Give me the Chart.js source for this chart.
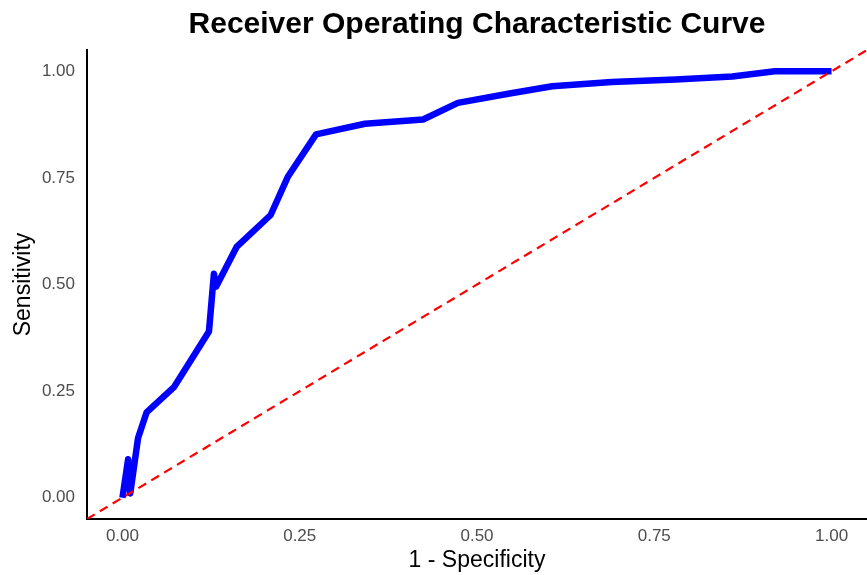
<!DOCTYPE html>
<html lang="en">
<head>
    <meta charset="UTF-8">
    <title>ROC Curve</title>
    <script src="https://cdn.jsdelivr.net/npm/chart.js"></script>
    <style>
        html, body { margin: 0; padding: 0; background: #fff; }
        #wrap { width: 867px; height: 575px; }
    </style>
</head>
<body>
    <div id="wrap"><canvas id="rocChart" width="867" height="575"></canvas></div>
    <script>
        // ROC points
        const fpr = [0, 0.008, 0.011, 0.022, 0.034, 0.073, 0.122, 0.129, 0.132, 0.161, 0.209, 0.233, 0.273, 0.342, 0.424, 0.473, 0.546, 0.606, 0.690, 0.78, 0.86, 0.92, 1.0];
        const tpr = [0, 0.09, 0.01, 0.14, 0.20, 0.26, 0.39, 0.525, 0.495, 0.588, 0.663, 0.752, 0.852, 0.877, 0.887, 0.926, 0.948, 0.965, 0.975, 0.981, 0.988, 1.0, 1.0];
        const diagX = [-0.05, 1.05];
        const diagY = [-0.05, 1.05];
        const tickValues = [0, 0.25, 0.5, 0.75, 1];

        const titleText = 'Receiver Operating Characteristic Curve';
        const fontFamily = '"Liberation Sans", Arial, sans-serif';

        // title centred over the plot panel, like ggplot does it
        const titlePlugin = {
            id: 'plotTitle',
            afterDraw(chart) {
                const ctx = chart.ctx;
                const area = chart.chartArea;
                ctx.save();
                ctx.font = 'bold 30px ' + fontFamily;
                ctx.fillStyle = '#000';
                ctx.textAlign = 'center';
                ctx.textBaseline = 'alphabetic';
                ctx.fillText(titleText, (area.left + area.right) / 2, 33);
                ctx.restore();
            }
        };

        const fixedTicks = scale => {
            scale.ticks = tickValues.map(v => ({ value: v }));
        };

        new Chart(document.getElementById('rocChart'), {
            type: 'line',
            data: {
                datasets: [
                    {
                        data: diagX.map((x, i) => ({ x: x, y: diagY[i] })),
                        borderColor: '#ff0000',
                        borderWidth: 2.2,
                        borderDash: [9, 6],
                        pointRadius: 0,
                        tension: 0
                    },
                    {
                        data: fpr.map((x, i) => ({ x: x, y: tpr[i] })),
                        borderColor: '#0000ff',
                        borderWidth: 6.5,
                        borderJoinStyle: 'round',
                        pointRadius: 0,
                        tension: 0
                    }
                ]
            },
            plugins: [titlePlugin],
            options: {
                responsive: false,
                animation: false,
                layout: { padding: { top: 50, right: 0, left: 0, bottom: 0 } },
                plugins: {
                    legend: { display: false },
                    tooltip: { enabled: false }
                },
                scales: {
                    x: {
                        type: 'linear',
                        min: -0.05,
                        max: 1.05,
                        afterBuildTicks: fixedTicks,
                        afterFit: scale => { scale.height = 56; },
                        grid: { display: false, drawTicks: false },
                        border: { display: true, color: '#000', width: 2 },
                        ticks: {
                            padding: 7,
                            color: '#4d4d4d',
                            font: { family: fontFamily, size: 17 },
                            callback: v => v.toFixed(2)
                        },
                        title: {
                            display: true,
                            text: '1 - Specificity',
                            color: '#000',
                            padding: { top: 0, bottom: 1 },
                            font: { family: fontFamily, size: 23 }
                        }
                    },
                    y: {
                        type: 'linear',
                        min: -0.05,
                        max: 1.05,
                        afterBuildTicks: fixedTicks,
                        afterFit: scale => { scale.width = 87; },
                        grid: { display: false, drawTicks: false },
                        border: { display: true, color: '#000', width: 2 },
                        ticks: {
                            padding: 12,
                            color: '#4d4d4d',
                            font: { family: fontFamily, size: 17 },
                            callback: v => v.toFixed(2)
                        },
                        title: {
                            display: true,
                            text: 'Sensitivity',
                            color: '#000',
                            padding: { top: 10, bottom: 0 },
                            font: { family: fontFamily, size: 23 }
                        }
                    }
                }
            }
        });
    </script>
</body>
</html>
